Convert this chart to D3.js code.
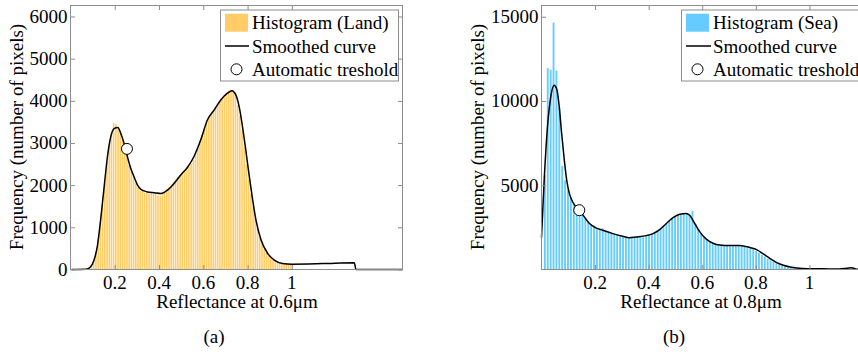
<html><head><meta charset="utf-8"><script src="https://cdn.jsdelivr.net/npm/d3@7/dist/d3.min.js"></script></head>
<body style="margin:0">
<svg id="s" width="858" height="352"></svg>
<script>
// ---------------- DATA ----------------
// Land histogram (bin width 0.01, first bin centre 0.075)
const landBinStart = 0.075;
const landBinWidth = 0.01;
const landHist = [20,50,110,220,420,700,1100,1550,2050,2550,2950,3250,3480,3450,3380,3250,3050,2850,2700,2480,
  2330,2200,2050,1950,1870,1880,1820,1850,1800,1830,1790,1810,1760,1740,1800,1850,1900,1960,2020,2080,
  2130,2190,2240,2290,2340,2400,2450,2510,2600,2720,2880,3050,3200,3350,3480,3620,3700,3780,3850,3920,
  4000,4060,4120,4180,4230,4260,4250,4200,3900,3650,3300,2900,2500,2150,1800,1500,1220,980,780,620,
  490,400,330,280,240,210,190,170,160,150,140,135,130];
const landCurveX = [0.005,0.07,0.09,0.106,0.121,0.136,0.152,0.167,0.182,0.197,0.214,0.227,0.242,0.257,0.272,0.287,0.303,0.318,0.348,0.378,
  0.408,0.438,0.468,0.498,0.528,0.558,0.589,0.619,0.649,0.679,0.709,0.729,0.747,0.762,0.777,0.792,0.808,0.823,0.838,0.861,
  0.891,0.921,0.958,1.0,1.14,1.282,1.29,1.5];
const landCurveY = [0,5,60,220,540,1170,1960,2680,3150,3340,3370,3230,2990,2680,2400,2200,2000,1900,1840,1820,
  1800,1880,2040,2240,2420,2680,3080,3550,3780,4020,4180,4240,4140,3860,3390,2830,2200,1650,1170,700,
  380,220,140,127,140,160,0,0];
const landThreshold = [0.255, 2860];

// Sea histogram (bin width 0.0108, first bin centre 0.0125)
const seaBinStart = 0.0125;
const seaBinWidth = 0.0108;
const seaHist = [5600,11950,11850,14650,11800,9600,6150,5300,4800,4300,3950,3700,3550,3300,3100,2850,2700,2600,2420,2350,
  2450,2300,2220,2150,2100,2050,2000,1980,1950,1900,1880,1920,1930,1950,1980,2000,2050,2100,2200,2300,
  2420,2580,2720,2880,3020,3150,3230,3280,3320,3300,3250,3480,2700,2400,2150,1920,1750,1620,1520,1460,
  1430,1420,1400,1420,1410,1430,1400,1390,1370,1340,1300,1250,1200,1100,980,860,750,640,540,450,
  370,300,240,190,150,110,80,60,40,30];
const seaCurveX = [0,0.01,0.0225,0.035,0.047,0.057,0.066,0.075,0.085,0.094,0.104,0.116,0.129,0.141,0.16,0.179,0.203,0.228,0.266,0.303,
  0.328,0.353,0.391,0.416,0.441,0.466,0.491,0.516,0.541,0.553,0.572,0.591,0.615,0.64,0.665,0.703,0.74,0.778,0.803,0.828,
  0.853,0.878,0.903,0.928,0.953,0.99,1.052,1.10,1.14,1.158,1.177,1.2];
const seaCurveY = [1890,5310,8500,10290,10930,10690,9690,8100,6510,5310,4520,4020,3720,3520,3120,2730,2470,2330,2130,1970,
  1890,1930,2010,2130,2370,2730,3080,3280,3330,3220,2730,2230,1800,1560,1450,1420,1420,1300,1180,920,
  650,410,250,150,90,45,40,25,80,110,20,20];
const seaThreshold = [0.141, 3520];

const landXTicks = [0.2,0.4,0.6,0.8,1];
const landYTicks = [0,1000,2000,3000,4000,5000,6000];
const seaXTicks = [0.2,0.4,0.6,0.8,1];
const seaYTicks = [5000,10000,15000];

const legendLand = ["Histogram (Land)","Smoothed curve","Automatic treshold"];
const legendSea = ["Histogram (Sea)","Smoothed curve","Automatic treshold"];

// ---------------- DRAW ----------------
const s = d3.select("#s");
const frameCol = "#8c8c8c";

function addText(xp, yp, str, anchor, transform){
  const t = s.append("text").attr("x",xp).attr("y",yp)
    .style("font-family",'"Liberation Serif"').style("font-size","19px");
  if (anchor) t.attr("text-anchor",anchor);
  if (transform) t.attr("transform",transform);
  t.text(str);
  return t;
}

function panel(cfg){
  const g = s.append("g");
  const x = d3.scaleLinear().domain(cfg.xDom).range(cfg.xRange);
  const y = d3.scaleLinear().domain(cfg.yDom).range(cfg.yRange);
  const [x0,x1] = cfg.xRange, [y0,y1] = cfg.yRange; // y0 bottom, y1 top

  // bars
  const bins = cfg.hist.map((v,i)=>({c: cfg.binStart + i*cfg.binWidth, v}));
  g.selectAll("rect.bar").data(bins).enter().append("rect")
    .attr("class","bar")
    .attr("x", d => x(d.c - cfg.binWidth*cfg.barFrac/2))
    .attr("width", d => x(d.c + cfg.binWidth*cfg.barFrac/2) - x(d.c - cfg.binWidth*cfg.barFrac/2))
    .attr("y", d => y(d.v))
    .attr("height", d => y(0) - y(d.v))
    .attr("fill", cfg.color);

  // curve
  const pts = cfg.cx.map((v,i)=>[v, cfg.cy[i]]);
  g.append("path").datum(pts)
    .attr("d", d3.line().x(d=>x(d[0])).y(d=>y(d[1])).curve(d3.curveMonotoneX))
    .attr("fill","none").attr("stroke","#000").attr("stroke-width",1.5);

  // ticks inside, mirrored (MATLAB style)
  const tl = 4.5;
  const axes = [
    [`translate(0,${y0})`, d3.axisBottom(x).tickValues(cfg.xTicks)],
    [`translate(0,${y1})`, d3.axisTop(x).tickValues(cfg.xTicks)],
    [`translate(${x0},0)`, d3.axisLeft(y).tickValues(cfg.yTicks)],
    [`translate(${x1},0)`, d3.axisRight(y).tickValues(cfg.yTicks)]
  ];
  axes.forEach(([tr, ax])=>{
    const a = g.append("g").attr("transform",tr).call(ax.tickSizeInner(-tl).tickSizeOuter(0).tickFormat(""));
    a.select(".domain").remove();
    a.selectAll(".tick line").attr("stroke",frameCol);
    a.selectAll("text").remove();
  });

  // frame
  g.append("rect").attr("x",x0).attr("y",y1).attr("width",x1-x0).attr("height",y0-y1)
    .attr("fill","none").attr("stroke",frameCol).attr("stroke-width",1);

  // threshold marker
  g.append("circle").attr("cx",x(cfg.thr[0])).attr("cy",y(cfg.thr[1])).attr("r",5.5)
    .attr("fill","#fff").attr("stroke","#000").attr("stroke-width",1);

  // legend box + symbols
  const L = cfg.leg;
  const rows = [22.7, 46, 69.3];
  g.append("rect").attr("x",L.x).attr("y",10).attr("width",L.w).attr("height",71)
    .attr("fill","#fff").attr("stroke",frameCol).attr("stroke-width",1);
  g.append("rect").attr("x",L.sx).attr("y",rows[0]-9).attr("width",23).attr("height",18).attr("fill",cfg.color);
  g.append("line").attr("x1",L.sx).attr("x2",L.sx+L.lw).attr("y1",rows[1]).attr("y2",rows[1])
    .attr("stroke","#000").attr("stroke-width",1.5);
  g.append("circle").attr("cx",L.sx+11.5).attr("cy",rows[2]).attr("r",5.5)
    .attr("fill","#fff").attr("stroke","#000").attr("stroke-width",1);

  // texts
  cfg.xTicks.forEach(d => addText(x(d), 289, d3.format("")(d), "middle"));
  cfg.yTicks.forEach(d => addText(x0-3, y(d)+6.5, d3.format("d")(d), "end"));
  addText(cfg.xLabelX, 308, cfg.xLabel, "middle");
  addText(0, 0, "Frequency (number of pixels)", "middle", `translate(${cfg.yLabelX+6.5},137) rotate(-90)`);
  addText(cfg.capX, 343, cfg.caption, "middle");
  cfg.legend.forEach((d,i) => addText(L.tx, rows[i]+6.5, d));
}

panel({xDom:[0,1.5], xRange:[70.5,402.5], yDom:[0,6260], yRange:[269.5,5.5],
  hist:landHist, binStart:landBinStart, binWidth:landBinWidth, barFrac:0.72, color:"#FFCC66",
  cx:landCurveX, cy:landCurveY, thr:landThreshold, xTicks:landXTicks, yTicks:landYTicks,
  xLabel:"Reflectance at 0.6\u03BCm", xLabelX:237, yLabelX:16, caption:"(a)", capX:214,
  legend:legendLand, leg:{x:220.5, w:178, sx:225, lw:24, tx:252}});

panel({xDom:[0,1.2], xRange:[541.5,863], yDom:[0,15665], yRange:[269.5,5.5],
  hist:seaHist, binStart:seaBinStart, binWidth:seaBinWidth, barFrac:0.65, color:"#66CCFF",
  cx:seaCurveX, cy:seaCurveY, thr:seaThreshold, xTicks:seaXTicks, yTicks:seaYTicks,
  xLabel:"Reflectance at 0.8\u03BCm", xLabelX:701, yLabelX:477, caption:"(b)", capX:674,
  legend:legendSea, leg:{x:681.5, w:190, sx:686, lw:25, tx:713}});
</script></body></html>
